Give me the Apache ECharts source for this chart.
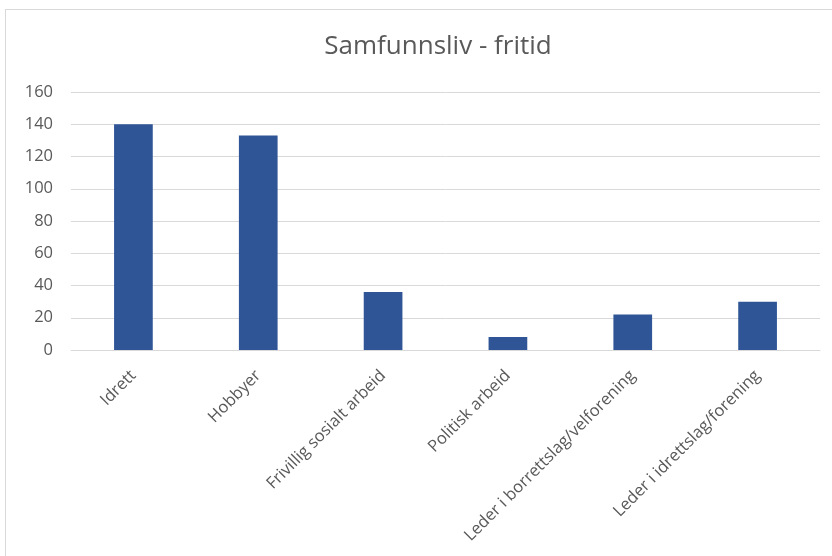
<!DOCTYPE html>
<html>
<head>
<meta charset="utf-8">
<script src="https://cdn.jsdelivr.net/npm/echarts@6/dist/echarts.min.js"></script>
<style>
  html, body { margin: 0; padding: 0; background: #fff; }
  #frame { position: absolute; left: 5px; top: 9px; width: 840px; height: 560px; border: 1px solid #d9d9d9; }
  #chart { position: absolute; left: 0; top: 0; width: 832px; height: 556px; }
</style>
</head>
<body>
<div id="frame"></div>
<div id="chart"></div>
<script>
const categories = ['Idrett', 'Hobbyer', 'Frivillig sosialt arbeid', 'Politisk arbeid', 'Leder i borrettslag/velforening', 'Leder i idrettslag/forening'];
const values = [140, 133, 36, 8, 22, 30];
const yTicks = [0, 20, 40, 60, 80, 100, 120, 140, 160];

const chart = echarts.init(document.getElementById('chart'));
chart.setOption({
  animation: false,
  textStyle: { fontFamily: 'Open Sans' },
  title: {
    text: 'Samfunnsliv - fritid',
    left: 433,
    top: 29,
    textAlign: 'center',
    textStyle: { fontSize: 26, fontWeight: 'normal', color: '#595959', fontFamily: 'Open Sans' }
  },
  grid: { left: 71, right: 12, top: 92, bottom: 206 },
  xAxis: {
    type: 'category',
    data: categories,
    axisLine: { lineStyle: { color: '#d9d9d9' } },
    axisTick: { show: false },
    axisLabel: { rotate: 45, color: '#595959', fontSize: 16.5, margin: 23, interval: 0 }
  },
  yAxis: {
    type: 'value',
    min: yTicks[0],
    max: yTicks[yTicks.length - 1],
    interval: 20,
    axisLine: { show: false },
    axisTick: { show: false },
    axisLabel: { color: '#595959', fontSize: 16.5, margin: 18 },
    splitLine: { lineStyle: { color: '#d9d9d9' } }
  },
  series: [{
    type: 'bar',
    data: values,
    barWidth: '31%',
    itemStyle: { color: '#2F5597' }
  }]
});
</script>
</body>
</html>
